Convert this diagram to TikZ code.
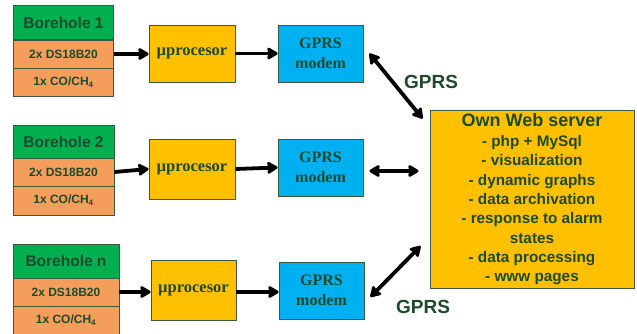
\documentclass[tikz,border=0pt]{standalone}
\usepackage{fontspec}
\setmainfont{Liberation Sans}
\newfontfamily\serifbf{Liberation Serif}[BoldFont=* Bold]
\usetikzlibrary{arrows.meta,calc}
\definecolor{txt}{HTML}{1E4A2C}
\definecolor{hdr}{HTML}{00B050}
\definecolor{orng}{HTML}{F59E5B}
\definecolor{yel}{HTML}{FFC000}
\definecolor{blu}{HTML}{00B0F0}
\definecolor{bord}{HTML}{3A5A3E}
\tikzset{
  box/.style={draw=bord, line width=0.8pt, rectangle, inner sep=0pt, text=txt, align=center},
  head/.style={box, fill=hdr, font=\bfseries\fontsize{15.5}{18}\selectfont},
  cell/.style={box, fill=orng, font=\bfseries\fontsize{12}{14}\selectfont},
  proc/.style={box, fill=yel, font=\serifbf\bfseries\fontsize{16.5}{18}\selectfont},
  modem/.style={box, fill=blu, font=\serifbf\bfseries\fontsize{16}{20}\selectfont},
  srv/.style={box, fill=yel, font=\bfseries\fontsize{15.3}{19.3}\selectfont},
  tip/.style={},
  arr/.style={line width=3.8pt, -{Stealth[length=12pt,width=14pt,inset=1.5pt,round]}},
  darr/.style={line width=3.8pt, {Stealth[length=12pt,width=14pt,inset=1.5pt,round]}-{Stealth[length=12pt,width=14pt,inset=1.5pt,round]}},
  lbl/.style={text=txt, font=\bfseries\fontsize{19}{22}\selectfont}
}
\begin{document}
\begin{tikzpicture}[x=1pt,y=-1pt]
\useasboundingbox (0,0) rectangle (637,334);
% Borehole 1
\node[head, minimum width=100pt, minimum height=34pt] (h1) at (63.5,22.5) {Borehole 1};
\node[cell, minimum width=100pt, minimum height=28pt] (a1) at (63.5,54) {2x DS18B20};
\node[cell, minimum width=100pt, minimum height=28pt] (b1) at (63.5,82) {1x CO/CH\textsubscript{4}};
% Borehole 2
\node[head, minimum width=101pt, minimum height=33pt] (h2) at (63.5,141.5) {Borehole 2};
\node[cell, minimum width=101pt, minimum height=28pt] (a2) at (63.5,172) {2x DS18B20};
\node[cell, minimum width=101pt, minimum height=29pt] (b2) at (63.5,200.5) {1x CO/CH\textsubscript{4}};
% Borehole n
\node[head, minimum width=106pt, minimum height=34pt] (h3) at (66,261) {Borehole n};
\node[cell, minimum width=106pt, minimum height=28pt] (a3) at (66,292) {2x DS18B20};
\node[cell, minimum width=106pt, minimum height=28pt] (b3) at (66,320) {1x CO/CH\textsubscript{4}};
% processors
\node[proc, minimum width=86pt, minimum height=57pt] (p1) at (192,53.5) {µprocesor};
\node[proc, minimum width=86pt, minimum height=60pt] (p2) at (192,169) {µprocesor};
\node[proc, minimum width=85pt, minimum height=60pt] (p3) at (193.5,290) {µprocesor};
% modems
\node[modem, minimum width=85pt, minimum height=57pt] (m1) at (320.5,53.5) {GPRS\\modem};
\node[modem, minimum width=85pt, minimum height=57pt] (m2) at (320.5,167.5) {GPRS\\modem};
\node[modem, minimum width=85pt, minimum height=57pt] (m3) at (321.5,290.5) {GPRS\\modem};
% server
\node[srv, minimum width=204pt, minimum height=178pt] (s) at (532,199) {%
  {\fontsize{18}{22}\selectfont Own Web server}\\[1pt]
  - php + MySql\\
  - visualization\\
  - dynamic graphs\\
  - data archivation\\
  - response to alarm\\
  states\\
  - data processing\\
  - www pages};
% arrows
\draw[arr] (a1.east) -- (a1.east -| p1.west);
\draw[arr] (p1.east) -- (p1.east -| m1.west);
\draw[arr] (a2.east) -- (p2.west);
\draw[arr] (p2.east) -- (m2.west);
\draw[arr] (a3.east) -- (a3.east -| p3.west);
\draw[arr] ($(p3.east)+(0,2)$) -- ($(m3.west)+(0,1.5)$);
\draw[darr] ($(m1.east)+(6,0)$) -- ($(s.north west)+(-7,9)$);
\draw[darr] ($(m2.east)+(6,3.5)$) -- ($(s.west)+(-11,-28)$);
\draw[darr] ($(m3.east)+(6,6.5)$) -- ($(s.west)+(-9,47)$);
\node[lbl] (g1) at (431,82) {GPRS};
\node[lbl] (g2) at (423,307) {GPRS};
\end{tikzpicture}
\end{document}
